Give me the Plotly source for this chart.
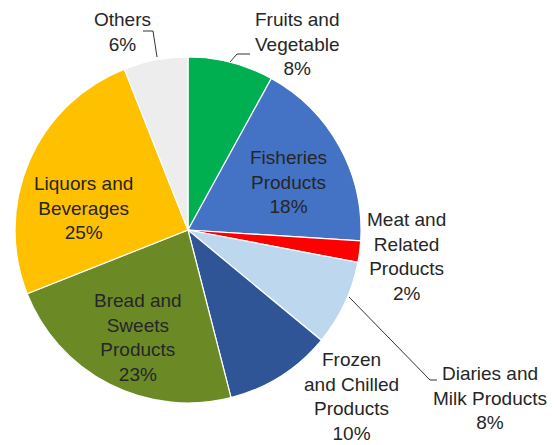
import plotly.graph_objects as go

# data
categories = ["Fruits and Vegetable", "Fisheries Products", "Meat and Related Products",
              "Diaries and Milk Products", "Frozen and Chilled Products",
              "Bread and Sweets Products", "Liquors and Beverages", "Others"]
shares = [8, 18, 2, 8, 10, 23, 25, 6]
colors = ["#00B050", "#4472C4", "#FF0000", "#BDD7EE", "#2F5597",
          "#6B8A26", "#FFC000", "#EDEDED"]
label_texts = ["Fruits and<br>Vegetable<br>8%", "Fisheries<br>Products<br>18%",
               "Meat and<br>Related<br>Products<br>2%", "Diaries and<br>Milk Products<br>8%",
               "Frozen<br>and Chilled<br>Products<br>10%", "Bread and<br>Sweets<br>Products<br>23%",
               "Liquors and<br>Beverages<br>25%", "Others<br>6%"]

W, H = 556, 445

def px_x(x):
    return x / W

def px_y(y):
    return 1 - y / H

# label centres (pixels)
label_pos = [(297, 44), (288, 182), (406, 256), (490, 398),
             (351, 396), (138, 337), (83, 208), (122, 32)]

fig = go.Figure(go.Pie(
    labels=categories,
    values=shares,
    sort=False,
    direction="clockwise",
    rotation=0,
    textinfo="none",
    hoverinfo="label+percent",
    marker=dict(colors=colors, line=dict(color="white", width=1.2)),
    domain=dict(x=[px_x(15), px_x(361)], y=[px_y(403), px_y(57)]),
    showlegend=False,
))

for txt, (x, y) in zip(label_texts, label_pos):
    fig.add_annotation(x=px_x(x), y=px_y(y), xref="paper", yref="paper",
                       text=txt, showarrow=False, align="center",
                       font=dict(family="Liberation Sans, Arial", size=19, color="#262626"),
                       xanchor="center", yanchor="middle")

# leader lines
leaders = [
    [(143, 31), (153, 31), (157, 57)],
    [(230, 62), (237, 54), (250, 54)],
    [(349, 297), (430, 380), (437, 380)],
]
for pts in leaders:
    path = "M " + " L ".join(f"{px_x(x)},{px_y(y)}" for x, y in pts)
    fig.add_shape(type="path", path=path, xref="paper", yref="paper",
                  line=dict(color="#333", width=1))

fig.update_layout(width=W, height=H, margin=dict(l=0, r=0, t=0, b=0),
                  paper_bgcolor="white", plot_bgcolor="white")

fig.write_html("out.html", config={"displayModeBar": False},
               post_script="document.body.style.margin='0';")
